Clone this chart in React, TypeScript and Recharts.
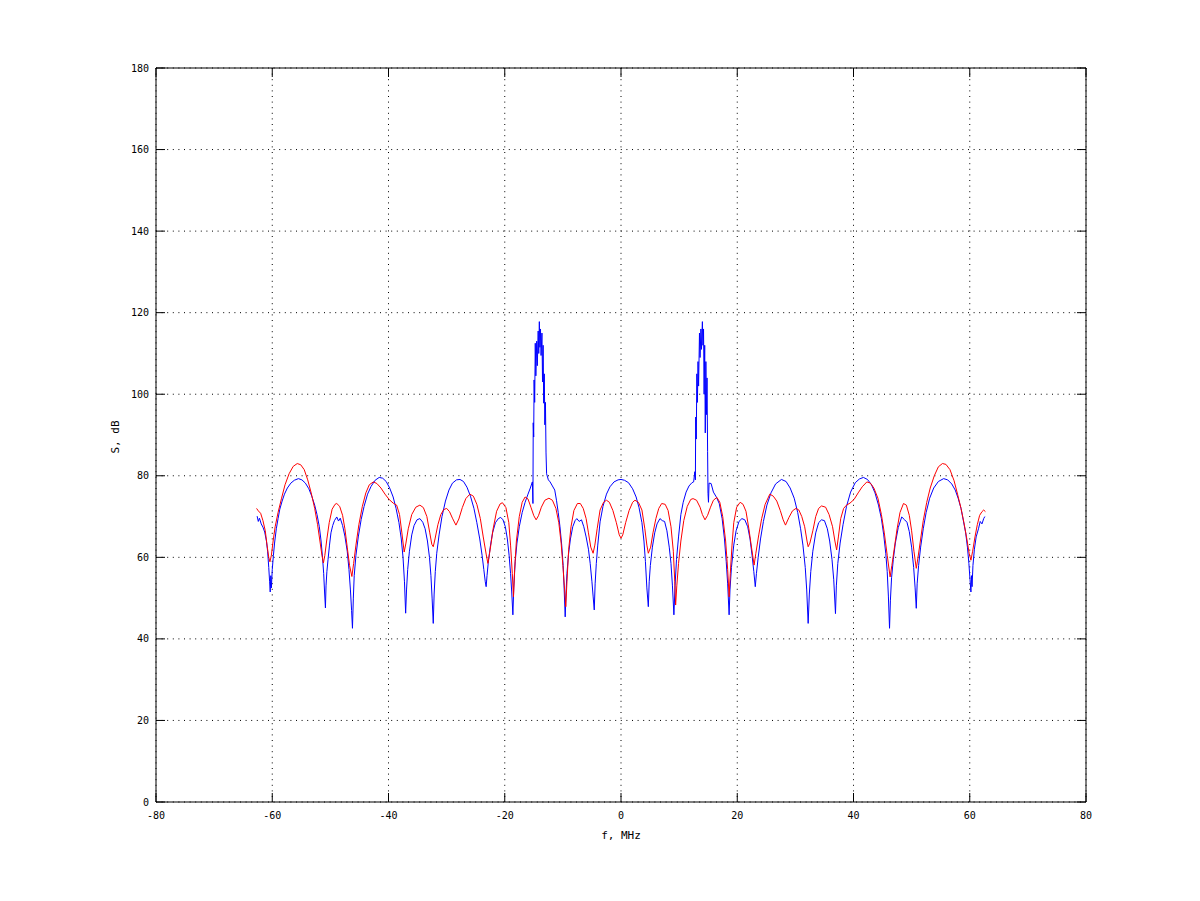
import { LineChart, Line, XAxis, YAxis, CartesianGrid, ReferenceLine, Label } from "recharts";

// [f MHz, S dB], left and right halves
const blueLeft: [number, number][] = [
  [-62.6, 70.1], [-62.4, 68.8], [-62.2, 69.6], [-61.9, 68.2], [-61.6, 67.4], [-61.3, 66.2], [-61.0, 64], [-60.8, 61.5],
  [-60.6, 57.5], [-60.45, 54], [-60.35, 51.5], [-60.25, 55.5], [-60.15, 52.5], [-60.0, 57], [-59.8, 60.5], [-59.6, 63.5],
  [-59.3, 67], [-59.0, 69.5], [-58.7, 71.8], [-58.3, 73.8], [-57.9, 75.5], [-57.4, 77], [-56.8, 78.2], [-56.2, 78.9],
  [-55.5, 79.3], [-54.9, 79], [-54.3, 78.2], [-53.7, 76.8], [-53.2, 75], [-52.7, 72.8], [-52.3, 70.5], [-51.9, 67.5],
  [-51.6, 64], [-51.35, 60], [-51.15, 56], [-51.0, 51.5], [-50.85, 47.6], [-50.75, 53], [-50.6, 56.5], [-50.4, 59.5],
  [-50.15, 63], [-49.9, 66], [-49.6, 67.8], [-49.3, 69], [-48.9, 69.9], [-48.6, 68.9], [-48.3, 69.6], [-47.9, 67.8],
  [-47.5, 65.2], [-47.1, 61.5], [-46.8, 57], [-46.55, 52], [-46.35, 47], [-46.2, 42.6], [-46.05, 50], [-45.9, 55.5],
  [-45.6, 60.5], [-45.2, 65], [-44.7, 69.3], [-44.2, 72.5], [-43.6, 75.5], [-43.0, 77.4], [-42.3, 78.9], [-41.6, 79.6],
  [-41.0, 79.4], [-40.4, 78.6], [-39.8, 77], [-39.2, 74.8], [-38.7, 72], [-38.2, 68.5], [-37.8, 64.5], [-37.5, 60],
  [-37.25, 54], [-37.05, 46.3], [-36.9, 52], [-36.7, 57], [-36.4, 61.5], [-36.0, 65.5], [-35.6, 67.8], [-35.1, 69.2],
  [-34.6, 69.5], [-34.1, 68.6], [-33.7, 67], [-33.3, 64], [-32.95, 60], [-32.7, 55.5], [-32.5, 50], [-32.3, 43.8],
  [-32.15, 51], [-31.95, 56.5], [-31.7, 61], [-31.3, 65.5], [-30.8, 70], [-30.2, 73.8], [-29.6, 76.5], [-29.0, 78.2],
  [-28.3, 79], [-27.7, 79.1], [-27.1, 78.6], [-26.5, 77.2], [-25.9, 75], [-25.3, 72], [-24.8, 68.5], [-24.3, 64.5],
  [-23.9, 60.5], [-23.6, 57], [-23.35, 54], [-23.2, 52.8], [-23.05, 55.5], [-22.85, 58.5], [-22.5, 62.5], [-22.1, 66],
  [-21.6, 68.5], [-21.1, 69.5], [-20.7, 69.8], [-20.3, 69.2], [-19.9, 67.5], [-19.55, 64.5], [-19.25, 60.5], [-19.0, 56],
  [-18.8, 51.5], [-18.6, 45.9], [-18.45, 52.5], [-18.2, 59], [-17.9, 63.5], [-17.5, 67.5], [-17.0, 71], [-16.5, 73.5],
  [-16.0, 75.5], [-15.6, 77], [-15.25, 78.5], [-15.15, 73.2], [-15.1, 93], [-15.02, 89.5], [-14.95, 103.5], [-14.85, 98],
  [-14.75, 112.5], [-14.65, 104.5], [-14.5, 113], [-14.4, 107], [-14.25, 115.5], [-14.15, 110], [-14.05, 117.8],
  [-13.95, 111.5], [-13.85, 116], [-13.75, 109.5], [-13.6, 115], [-13.5, 103], [-13.4, 112], [-13.3, 97.8], [-13.2, 105],
  [-13.1, 92.5], [-13.0, 98], [-12.9, 85.6], [-12.8, 80.5], [-12.5, 79], [-12.2, 78.5], [-11.8, 77.5], [-11.4, 76.5],
  [-11.1, 74], [-10.8, 71], [-10.5, 67.5], [-10.2, 63], [-9.95, 58], [-9.8, 53], [-9.6, 45.4], [-9.45, 51.5], [-9.3, 56],
  [-9.05, 60.5], [-8.7, 64.5], [-8.3, 67.5], [-7.9, 69], [-7.6, 69.5], [-7.2, 68.8], [-6.8, 69.2], [-6.4, 67.5],
  [-6.0, 65], [-5.6, 62], [-5.3, 58.5], [-5.0, 54], [-4.8, 50.5], [-4.6, 47.1], [-4.45, 53.5], [-4.25, 58.5], [-4.0, 63],
  [-3.6, 68.7], [-3.1, 72.5], [-2.5, 75.5], [-1.9, 77.3], [-1.2, 78.5], [-0.5, 79],
];

const blueRight: [number, number][] = [
  [0, 79.1], [0.6, 78.9], [1.3, 78.3], [2.0, 76.8], [2.6, 74.8], [3.1, 72.2], [3.6, 68.5], [3.95, 64], [4.2, 59],
  [4.45, 52.5], [4.7, 47.9], [4.85, 54], [5.05, 58], [5.4, 62.5], [5.8, 66], [6.2, 68.2], [6.7, 69.5], [7.1, 69],
  [7.5, 68.8], [7.9, 66.5], [8.3, 62.5], [8.6, 58.5], [8.85, 53], [9.1, 45.9], [9.3, 53], [9.55, 59.5], [9.9, 65],
  [10.3, 70.5], [10.7, 73.5], [11.2, 76], [11.7, 77.5], [12.2, 78.3], [12.5, 78.5], [12.7, 81], [12.8, 79],
  [12.85, 94.4], [12.95, 89], [13.05, 105], [13.15, 98], [13.25, 108], [13.35, 102], [13.5, 115], [13.6, 109],
  [13.75, 116], [13.85, 111], [14.0, 117.8], [14.1, 112], [14.2, 116], [14.3, 100], [14.4, 112], [14.5, 90.5],
  [14.6, 108], [14.7, 95], [14.8, 104], [14.9, 86], [14.97, 75.7], [15.05, 73.5], [15.15, 78.2], [15.5, 78.1],
  [15.9, 76], [16.4, 74.8], [16.9, 73.2], [17.4, 69.5], [17.8, 64.5], [18.1, 59], [18.35, 53.5], [18.6, 45.9],
  [18.75, 52], [19.0, 57.5], [19.4, 63], [19.8, 66.5], [20.3, 68.8], [20.8, 69.5], [21.3, 69.2], [21.8, 67.5],
  [22.2, 64.5], [22.55, 60.5], [22.85, 56.5], [23.1, 52.8], [23.3, 56], [23.6, 60], [24.0, 64.5], [24.5, 68.8],
  [25.1, 72.8], [25.8, 75.8], [26.6, 78], [27.6, 79.1], [28.4, 78.6], [29.1, 77], [29.8, 74.5], [30.4, 71], [30.9, 67],
  [31.3, 63], [31.7, 57.5], [31.95, 52], [32.2, 43.8], [32.4, 51], [32.65, 56.5], [33.0, 61.5], [33.5, 66], [34.0, 68.5],
  [34.5, 69.2], [35.0, 69], [35.5, 67], [35.9, 64], [36.3, 59.5], [36.6, 54.5], [36.9, 46.2], [37.05, 53], [37.3, 58.5],
  [37.7, 63.5], [38.2, 68], [38.8, 72.5], [39.5, 76], [40.3, 78.3], [41.0, 79.2], [41.7, 79.6], [42.4, 79.1],
  [43.1, 77.8], [43.7, 75.8], [44.3, 72.8], [44.8, 69.5], [45.2, 65.5], [45.55, 61], [45.8, 56.5], [46.0, 50.5],
  [46.2, 42.6], [46.35, 49.5], [46.55, 55], [46.85, 59.5], [47.2, 63.5], [47.7, 67.3], [48.3, 69.9], [48.8, 69.2],
  [49.2, 68.6], [49.6, 66.3], [50.0, 62.5], [50.35, 57.5], [50.6, 52.5], [50.8, 47.5], [50.95, 53.5], [51.2, 58],
  [51.55, 62.5], [52.0, 67], [52.5, 71], [53.1, 74.5], [53.8, 77], [54.6, 78.6], [55.5, 79.3], [56.2, 79], [56.9, 78],
  [57.5, 76.5], [58.0, 74.5], [58.5, 72], [58.9, 69], [59.3, 66], [59.6, 62.5], [59.85, 58.5], [60.05, 54.5],
  [60.2, 51.5], [60.3, 55.5], [60.4, 52.8], [60.55, 58], [60.8, 62], [61.1, 65], [61.5, 67], [61.8, 68.8], [62.1, 68.2],
  [62.4, 69.5], [62.6, 70],
];

const redLeft: [number, number][] = [
  [-62.7, 72], [-62.4, 71.4], [-62.0, 70.8], [-61.6, 69], [-61.2, 66.5], [-60.9, 63], [-60.6, 60], [-60.4, 58.9],
  [-60.15, 60.5], [-59.85, 64], [-59.5, 67.5], [-59.0, 71], [-58.4, 74.5], [-57.8, 77.8], [-57.1, 80.5], [-56.4, 82.3],
  [-55.7, 83], [-55.1, 82.7], [-54.5, 81.5], [-53.9, 79], [-53.3, 75.8], [-52.7, 72], [-52.2, 68], [-51.8, 64],
  [-51.45, 60.5], [-51.2, 58.6], [-50.95, 60.5], [-50.6, 64.5], [-50.2, 68.5], [-49.7, 71.8], [-49.2, 73], [-48.9, 73.2],
  [-48.4, 72.5], [-47.9, 70.3], [-47.5, 67], [-47.1, 62.5], [-46.7, 58], [-46.3, 55.3], [-46.0, 58.5], [-45.6, 63],
  [-45.1, 68], [-44.5, 72.5], [-43.9, 75.8], [-43.3, 77.8], [-42.6, 78.5], [-42.0, 78.1], [-41.3, 77], [-40.6, 75.5],
  [-39.9, 74.2], [-39.2, 73.3], [-38.6, 72.8], [-38.1, 70.5], [-37.7, 66], [-37.3, 61.3], [-37.0, 63.5], [-36.6, 67],
  [-36.0, 70.5], [-35.3, 72.3], [-34.6, 72.8], [-34.0, 72.2], [-33.4, 70], [-32.9, 66], [-32.55, 63.2], [-32.3, 62.6],
  [-32.0, 64.5], [-31.5, 68], [-31.0, 70.5], [-30.5, 71.7], [-30.0, 72], [-29.5, 71.2], [-29.0, 69.6], [-28.4, 67.9],
  [-27.9, 69.4], [-27.3, 72.2], [-26.7, 74.4], [-26.0, 75.5], [-25.4, 75], [-24.8, 73], [-24.2, 69.5], [-23.7, 65],
  [-23.2, 60.8], [-22.9, 58.5], [-22.5, 62], [-22.0, 67], [-21.4, 71.3], [-20.8, 73.1], [-20.4, 73.4], [-19.8, 72.2],
  [-19.3, 68.5], [-19.0, 63], [-18.7, 56], [-18.5, 50.3], [-18.3, 57], [-18.0, 64], [-17.5, 70], [-17.0, 73.5],
  [-16.5, 74.8], [-16.0, 74.3], [-15.5, 72.3], [-15.0, 70.2], [-14.6, 69.2], [-14.2, 70.2], [-13.7, 72.3], [-13.1, 74],
  [-12.4, 74.5], [-11.8, 74], [-11.2, 72], [-10.7, 68.5], [-10.3, 63.5], [-10.0, 58], [-9.7, 52], [-9.5, 47.9],
  [-9.3, 54], [-9.0, 62], [-8.6, 67.5], [-8.1, 71.5], [-7.5, 73.2], [-7.0, 73.2], [-6.5, 72], [-6.0, 69.5], [-5.6, 66],
  [-5.2, 62.5], [-4.8, 61], [-4.5, 63], [-4.1, 67], [-3.6, 71.6], [-3.0, 73.5], [-2.5, 74], [-2.0, 73.5], [-1.4, 71.5],
  [-0.8, 68.5], [-0.3, 65.5],
];

const redRight: [number, number][] = [
  [0, 64.7], [0.3, 65.5], [0.8, 68.5], [1.4, 71.5], [2.0, 73.5], [2.4, 74], [3.0, 73.5], [3.6, 71.6], [4.1, 67],
  [4.45, 63], [4.7, 61], [5.1, 62.5], [5.5, 66], [6.0, 69.5], [6.5, 72], [7.0, 73.2], [7.6, 73], [8.1, 71.5],
  [8.6, 67.5], [9.0, 61.5], [9.25, 54], [9.4, 48.3], [9.6, 53], [9.9, 58.5], [10.3, 64], [10.8, 69], [11.4, 72.5],
  [12.0, 74.2], [12.4, 74.4], [13.0, 74], [13.6, 72.3], [14.0, 70.5], [14.45, 69.2], [14.9, 70.3], [15.4, 72.3],
  [15.9, 74], [16.5, 74.7], [17.0, 73.5], [17.5, 70], [18.0, 64], [18.35, 57], [18.6, 50.3], [18.8, 56], [19.1, 63],
  [19.4, 68.5], [19.9, 72.3], [20.5, 73.5], [21.0, 73], [21.5, 71.3], [22.0, 67], [22.5, 62], [22.9, 58.1], [23.2, 61],
  [23.7, 65.5], [24.2, 69.5], [24.8, 73], [25.6, 75.5], [26.2, 75], [26.8, 73.8], [27.4, 71.5], [27.9, 69.2],
  [28.3, 67.9], [28.9, 69.8], [29.5, 71.4], [30.1, 72], [30.6, 71.6], [31.1, 70], [31.6, 67.5], [32.0, 64], [32.2, 62.6],
  [32.5, 63.5], [33.0, 66.5], [33.5, 70], [34.0, 72], [34.5, 72.6], [35.2, 72.3], [35.8, 70.5], [36.4, 67.5], [36.8, 64],
  [37.1, 61.8], [37.4, 65], [37.8, 69.5], [38.3, 72], [38.8, 72.8], [39.4, 73.3], [40.1, 74.2], [40.8, 75.8],
  [41.5, 77.3], [42.3, 78.5], [42.9, 78.2], [43.5, 77], [44.2, 74.5], [44.8, 70.5], [45.3, 66], [45.8, 60.5],
  [46.3, 55.2], [46.6, 58], [47.0, 62], [47.5, 67], [48.0, 71], [48.6, 73.2], [49.1, 72.8], [49.6, 70.3], [50.0, 66.5],
  [50.4, 61.5], [50.8, 57.3], [51.1, 60], [51.5, 64], [52.0, 69], [52.6, 73.5], [53.2, 77], [53.9, 80], [54.6, 82.2],
  [55.3, 83], [55.9, 82.8], [56.6, 81.5], [57.3, 78.8], [57.9, 75.5], [58.5, 72], [59.0, 68.5], [59.5, 64.5],
  [59.9, 61], [60.2, 59.3], [60.5, 61.5], [60.9, 65], [61.3, 68], [61.7, 70.3], [62.1, 71.2], [62.4, 71.6], [62.7, 71.2],
];

const xTicks = [-80, -60, -40, -20, 0, 20, 40, 60, 80];
const yTicks = [0, 20, 40, 60, 80, 100, 120, 140, 160, 180];

const toPoints = (rows: [number, number][]) => rows.map(([f, s]) => ({ f, s }));
const blueData = toPoints([...blueLeft, ...blueRight]);
const redData = toPoints([...redLeft, ...redRight]);

// plot box in page pixels
const BOX = { left: 156, top: 68, right: 1086, bottom: 802 };
const TICK = 9;
const FONT = "'DejaVu Sans Mono', monospace";

if (typeof document !== "undefined") document.body.style.margin = "0";

function BottomTick(props: any) {
  const { x, payload } = props;
  return (
    <g>
      <line x1={x} x2={x} y1={BOX.bottom} y2={BOX.bottom - TICK} stroke="#000" />
      <line x1={x} x2={x} y1={BOX.top} y2={BOX.top + TICK} stroke="#000" />
      <text x={x} y={BOX.bottom + 17} textAnchor="middle" fontSize={10} fontFamily={FONT} fill="#000">
        {payload.value}
      </text>
    </g>
  );
}

function LeftTick(props: any) {
  const { y, payload } = props;
  return (
    <g>
      <line x1={BOX.left} x2={BOX.left + TICK} y1={y} y2={y} stroke="#000" />
      <line x1={BOX.right} x2={BOX.right - TICK} y1={y} y2={y} stroke="#000" />
      <text x={BOX.left - 7} y={y} dy="0.35em" textAnchor="end" fontSize={10} fontFamily={FONT} fill="#000">
        {payload.value}
      </text>
    </g>
  );
}

function YTitle(props: any) {
  const { viewBox } = props;
  const cx = viewBox.x + viewBox.width - 37;
  const cy = viewBox.y + viewBox.height / 2 + 2;
  return (
    <text x={cx} y={cy} transform={`rotate(-90 ${cx} ${cy})`} textAnchor="middle" fontSize={11} fontFamily={FONT} fill="#000">
      S, dB
    </text>
  );
}

export default function App() {
  return (
    <LineChart
      width={1200}
      height={901}
      margin={{ top: BOX.top, right: 1200 - BOX.right, bottom: 0, left: 0 }}
      style={{ background: "#fff" }}
    >
      <CartesianGrid stroke="#000" strokeDasharray="1 4.6" />
      <XAxis
        dataKey="f"
        type="number"
        domain={[-80, 80]}
        ticks={xTicks}
        interval={0}
        height={901 - BOX.bottom}
        axisLine={{ stroke: "#000" }}
        tickLine={false}
        tick={<BottomTick />}
        allowDuplicatedCategory={false}
      >
        <Label value="f, MHz" position="insideBottom" offset={62} fontSize={11} fontFamily={FONT} fill="#000" />
      </XAxis>
      <YAxis
        type="number"
        domain={[0, 180]}
        ticks={yTicks}
        interval={0}
        width={BOX.left}
        axisLine={{ stroke: "#000" }}
        tickLine={false}
        tick={<LeftTick />}
      >
        <Label content={<YTitle />} />
      </YAxis>
      <ReferenceLine y={180} stroke="#000" />
      <ReferenceLine x={80} stroke="#000" />
      <Line data={blueData} dataKey="s" type="linear" stroke="#0000ff" strokeWidth={1} dot={false} isAnimationActive={false} />
      <Line data={redData} dataKey="s" type="linear" stroke="#ff0000" strokeWidth={1} dot={false} isAnimationActive={false} />
    </LineChart>
  );
}
